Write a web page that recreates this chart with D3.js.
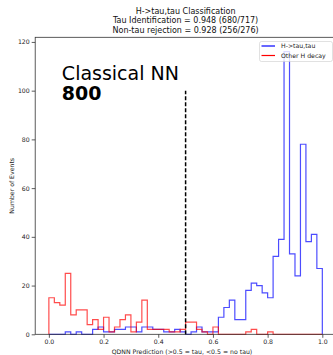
<!DOCTYPE html>
<html>
<head>
<meta charset="utf-8">
<script src="https://cdn.jsdelivr.net/npm/d3@7"></script>
<style>
  body { margin: 0; background: #fff; }
  svg { display: block; font-family: "DejaVu Sans", sans-serif; }
</style>
</head>
<body>
<div id="chart"></div>
<script>
// TITLE LINES
const titleLines = [
  "H->tau,tau Classification",
  "Tau Identification = 0.948 (680/717)",
  "Non-tau rejection = 0.928 (256/276)"
];

// HISTOGRAM: 50 BINS OF WIDTH 0.02 ON [0, 1]
const binWidth = 0.02;
const binLeft = d3.range(50).map((i) => i * binWidth);

// H->tau,tau (blue)
const tauCounts = [
  0, 0, 0, 1, 0, 1, 0, 0, 2, 3,
  1, 1, 2, 2, 3, 3, 1, 3, 3, 2,
  2, 1, 1, 2, 1, 0, 1, 3, 1, 1,
  1, 7, 11, 14, 6, 6, 18, 21, 20, 17,
  15, 32, 39, 116, 33, 24, 78, 38, 41, 27
];

// Other H decay (red)
const otherCounts = [
  15, 13, 12, 25, 8, 10, 10, 4, 6, 2,
  7, 1, 3, 6, 8, 1, 5, 14, 2, 2,
  2, 2, 1, 1, 2, 5, 5, 2, 1, 0,
  3, 0, 0, 0, 0, 0, 1, 2, 0, 0,
  1, 0, 0, 0, 0, 0, 0, 0, 0, 0
];

const seriesNames = ["H->tau,tau", "Other H decay"];
const seriesColors = ["#0000ff", "#ff0000"];

const xTicks = [0.0, 0.2, 0.4, 0.6, 0.8, 1.0];
const yTicks = [0, 20, 40, 60, 80, 100, 120];

const xDomain = [-0.05, 1.05];
const yDomain = [0, 121.9];
const cutValue = 0.5;
const cutTop = 100;

// SVG SIZE
const w = 333;
const h = 355;

const svg = d3
  .select("#chart")
  .append("svg")
  .attr("width", w)
  .attr("height", h);

const xScale = d3.scaleLinear().domain(xDomain).range([35.2, 336]);
const yScale = d3.scaleLinear().domain(yDomain).range([334.3, 37.3]);

// TITLE
svg
  .selectAll("text.title")
  .data(titleLines)
  .enter()
  .append("text")
  .attr("class", "title")
  .attr("x", (xScale.range()[0] + xScale.range()[1]) / 2)
  .attr("y", (d, i) => 13.5 + i * 9.5)
  .attr("text-anchor", "middle")
  .attr("font-size", 8)
  .attr("fill", "#111")
  .text((d) => d);

// HISTOGRAM STEP OUTLINES
function stepPoints(counts) {
  const pts = [[binLeft[0], 0]];
  counts.forEach((c, i) => pts.push([binLeft[i], c]));
  const last = binLeft[binLeft.length - 1] + binWidth;
  pts.push([last, counts[counts.length - 1]]);
  pts.push([last, 0]);
  return pts;
}

const line = d3
  .line()
  .x((d) => xScale(d[0]))
  .y((d) => yScale(d[1]))
  .curve(d3.curveStepAfter);

const plot = svg.append("g");

[tauCounts, otherCounts].forEach((counts, i) => {
  plot
    .append("path")
    .attr("d", line(stepPoints(counts)))
    .attr("fill", "none")
    .attr("stroke", seriesColors[i])
    .attr("stroke-opacity", 0.7)
    .attr("stroke-width", 1.2);
});

// CUT LINE
plot
  .append("line")
  .attr("x1", xScale(cutValue))
  .attr("x2", xScale(cutValue))
  .attr("y1", yScale(0))
  .attr("y2", yScale(cutTop))
  .attr("stroke", "#000")
  .attr("stroke-width", 1.5)
  .attr("stroke-dasharray", "4,2");

// ANNOTATION
svg
  .append("text")
  .attr("x", xScale(0.0475))
  .attr("y", yScale(104.4))
  .attr("font-size", 19)
  .attr("fill", "#000")
  .text("Classical NN");

svg
  .append("text")
  .attr("x", xScale(0.0475))
  .attr("y", yScale(96.2))
  .attr("font-size", 19)
  .attr("font-weight", "bold")
  .attr("fill", "#000")
  .text("800");

// AXES
const xAxis = d3
  .axisBottom(xScale)
  .tickValues(xTicks)
  .tickFormat(d3.format(".1f"))
  .tickSize(3.5)
  .tickPadding(2);

const yAxis = d3
  .axisLeft(yScale)
  .tickValues(yTicks)
  .tickFormat(d3.format("d"))
  .tickSize(3.5)
  .tickPadding(2);

const gx = svg
  .append("g")
  .attr("transform", "translate(0," + yScale(0) + ")")
  .call(xAxis);

const gy = svg
  .append("g")
  .attr("transform", "translate(" + xScale.range()[0] + ",0)")
  .call(yAxis);

[gx, gy].forEach((g) => {
  g.select(".domain").remove();
  g.selectAll("line").attr("stroke", "#333").attr("stroke-width", 0.8);
  g.selectAll("text")
    .attr("font-size", 6.2)
    .attr("fill", "#222")
    .style("font-family", "DejaVu Sans, sans-serif");
});

// FRAME
svg
  .append("rect")
  .attr("x", xScale.range()[0])
  .attr("y", yScale.range()[1])
  .attr("width", xScale.range()[1] - xScale.range()[0])
  .attr("height", yScale.range()[0] - yScale.range()[1])
  .attr("fill", "none")
  .attr("stroke", "#333")
  .attr("stroke-width", 0.8);

// AXIS LABELS
svg
  .append("text")
  .attr("x", 182)
  .attr("y", 353.5)
  .attr("text-anchor", "middle")
  .attr("font-size", 6.2)
  .attr("fill", "#222")
  .text("QDNN Prediction (>0.5 = tau, <0.5 = no tau)");

svg
  .append("text")
  .attr("transform", "translate(14," + (yScale.range()[0] + yScale.range()[1]) / 2 + ") rotate(-90)")
  .attr("text-anchor", "middle")
  .attr("font-size", 6.2)
  .attr("fill", "#222")
  .text("Number of Events");

// LEGEND
const legend = svg.append("g").attr("transform", "translate(259.5,41.5)");

legend
  .append("rect")
  .attr("width", 73)
  .attr("height", 20)
  .attr("rx", 2)
  .attr("fill", "#fff")
  .attr("fill-opacity", 0.8)
  .attr("stroke", "#ccc")
  .attr("stroke-width", 0.6);

seriesNames.forEach((name, i) => {
  const yy = 4.5 + i * 9.5;
  legend
    .append("line")
    .attr("x1", 2)
    .attr("x2", 15.5)
    .attr("y1", yy)
    .attr("y2", yy)
    .attr("stroke", seriesColors[i])
    .attr("stroke-width", 1.2);
  legend
    .append("text")
    .attr("x", 21.5)
    .attr("y", yy + 2.2)
    .attr("font-size", 6.2)
    .attr("fill", "#222")
    .text(name);
});
</script>
</body>
</html>
